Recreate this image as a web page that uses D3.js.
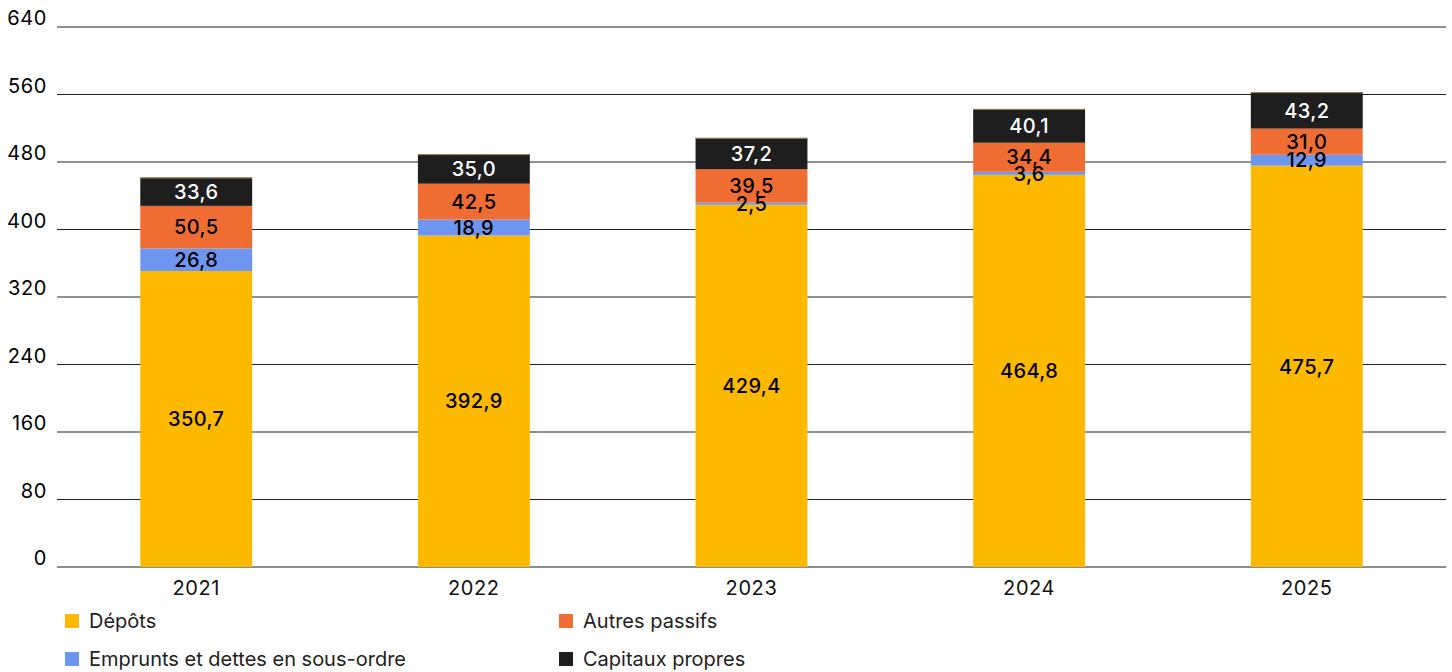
<!DOCTYPE html>
<html><head><meta charset="utf-8">
<script src="https://cdn.jsdelivr.net/npm/d3@7/dist/d3.min.js"></script>
<style>body{margin:0;background:#fff;}svg{display:block;font-family:Inter,"DejaVu Sans",sans-serif;}</style>
</head><body><svg id="c" width="1452" height="672"></svg>
<script>
const years = ["2021","2022","2023","2024","2025"];
const depots = [350.7,392.9,429.4,464.8,475.7];
const emprunts = [26.8,18.9,2.5,3.6,12.9];
const autres = [50.5,42.5,39.5,34.4,31.0];
const capitaux = [33.6,35.0,37.2,40.1,43.2];
const yTicks = [0,80,160,240,320,400,480,560,640];
const seriesNames = ["Dépôts","Emprunts et dettes en sous-ordre","Autres passifs","Capitaux propres"];
const colors = ["#FDB900","#6E95F0","#EF6C33","#1E1E1E"];
const textColors = ["#000","#000","#000","#fff"];

const svg = d3.select("#c");
const x0 = 57, x1 = 1446, yTop = 27, yBot = 567;
const x = d3.scaleBand().domain(years).range([x0,x1]).paddingInner(0.597).paddingOuter(0.3);
const y = d3.scaleLinear().domain([0,640]).range([yBot,yTop]);

const rows = years.map((yr,i)=>({year:yr, s0:depots[i], s1:emprunts[i], s2:autres[i], s3:capitaux[i]}));
const stack = d3.stack().keys(["s0","s1","s2","s3"])(rows);

// grid
svg.append("g").selectAll("line").data(yTicks).join("line")
  .attr("x1",x0).attr("x2",x1).attr("y1",d=>y(d)).attr("y2",d=>y(d))
  .attr("stroke",d=>d===0?"#666":"#222").attr("stroke-width",d=>d===0?1.6:1.1);
svg.append("g").selectAll("text").data(yTicks).join("text")
  .attr("x",47).attr("y",d=>y(d)-2).attr("text-anchor","end")
  .attr("font-size",20).attr("letter-spacing",0.6).attr("fill","#000").text(d=>d);

// bars
const g = svg.append("g");
stack.forEach((layer,k)=>{
  g.selectAll(null).data(layer).join("rect")
    .attr("x",d=>x(d.data.year)).attr("width",x.bandwidth())
    .attr("y",d=>y(d[1])).attr("height",d=>y(d[0])-y(d[1]))
    .attr("fill",colors[k]);
});
// top outline
g.selectAll(null).data(stack[3]).join("line")
  .attr("x1",d=>x(d.data.year)).attr("x2",d=>x(d.data.year)+x.bandwidth())
  .attr("y1",d=>y(d[1])+0.5).attr("y2",d=>y(d[1])+0.5)
  .attr("stroke","#9c8550").attr("stroke-width",1);
// labels
stack.forEach((layer,k)=>{
  g.selectAll(null).data(layer).join("text")
    .attr("x",d=>x(d.data.year)+x.bandwidth()/2)
    .attr("y",d=>(y(d[0])+y(d[1]))/2)
    .attr("dy","0.36em").attr("text-anchor","middle")
    .attr("font-size",20).attr("letter-spacing",0.4).attr("font-weight",500).attr("fill",textColors[k])
    .text(d=>d3.format(".1f")(d[1]-d[0]).replace(".",","));
});

// x labels
svg.append("g").selectAll("text").data(years).join("text")
  .attr("x",d=>x(d)+x.bandwidth()/2).attr("y",595).attr("text-anchor","middle")
  .attr("font-size",20).attr("letter-spacing",0.6).attr("fill","#111").text(d=>d);

// legend
const legPos = [[65,621],[65,659],[559,621],[559,659]];
seriesNames.forEach((n,i)=>{
  const [lx,ly] = legPos[i];
  svg.append("rect").attr("x",lx).attr("y",ly-7).attr("width",14).attr("height",14).attr("fill",colors[i]);
  svg.append("text").attr("x",lx+24).attr("y",ly).attr("dy","0.36em")
    .attr("font-size",20).attr("fill","#222").text(n);
});
</script></body></html>
